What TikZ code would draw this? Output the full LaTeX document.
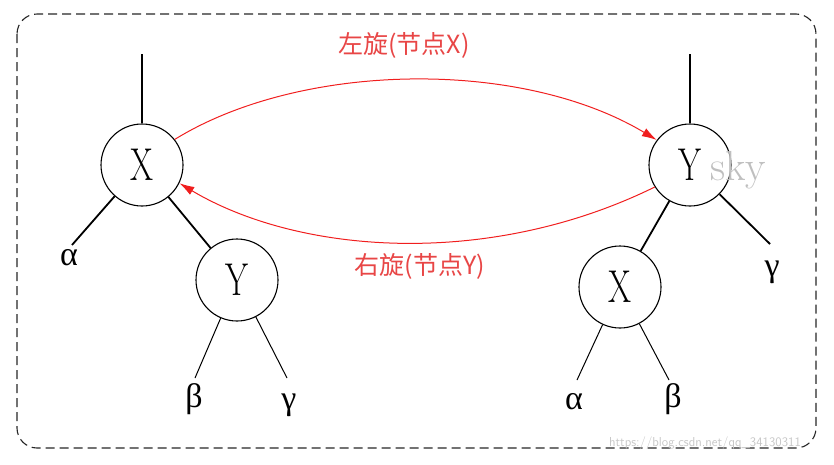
\documentclass[tikz,border=0pt]{standalone}
\usepackage{fontspec}
\usepackage{graphicx}
\newfontfamily\cjk{Noto Sans CJK SC}
\newfontfamily\grk{Liberation Serif}
\usetikzlibrary{arrows.meta}
\definecolor{rotred}{RGB}{240,30,30}
\definecolor{lblred}{RGB}{232,70,70}
\newcommand{\narrow}[1]{\scalebox{0.72}[1]{#1}}
\begin{document}
\begin{tikzpicture}[x=1pt,y=-1pt,
  tnode/.style={circle,draw,line width=1.1pt,minimum size=82pt,inner sep=0pt,font=\fontsize{46}{46}\selectfont},
  thickedge/.style={line width=1.8pt},
  thinedge/.style={line width=1pt},
  leaf/.style={inner sep=0pt,font=\grk\fontsize{34}{34}\selectfont},
  rot/.style={rotred,line width=1pt,-{Latex[length=15pt,width=9pt]}},
  rotlbl/.style={lblred,font=\cjk\fontsize{25}{25}\selectfont}]
\useasboundingbox (0,0) rectangle (834,464);
\draw[line width=1.1pt,dash pattern=on 9pt off 5pt,rounded corners=20pt,black!85] (17,14) rectangle (816,448);

% left tree
\node[tnode] (LX) at (142,165) {\narrow{X}};
\node[tnode] (LY) at (237,280) {\narrow{Y}};
\coordinate (LXtop) at (142,54);
\coordinate (LA) at (72,245);
\coordinate (LB) at (195,378);
\coordinate (LG) at (287,378);
\draw[thickedge] (LX) -- (LXtop);
\draw[thickedge] (LX) -- (LA);
\draw[thickedge] (LX) -- (LY);
\draw[thinedge] (LY) -- (LB);
\draw[thinedge] (LY) -- (LG);
\node[leaf] (la) at (69,258) {α};
\node[leaf] (lb) at (194,399) {β};
\node[leaf] (lg) at (289,405) {γ};

% right tree
\node[tnode] (RY) at (690,165) {\narrow{Y}};
\node[tnode] (RX) at (620,287) {\narrow{X}};
\coordinate (RYtop) at (690,54);
\coordinate (RG) at (770,244);
\coordinate (RA) at (577,380);
\coordinate (RB) at (669,380);
\draw[thickedge] (RY) -- (RYtop);
\draw[thickedge] (RY) -- (RX);
\draw[thickedge] (RY) -- (RG);
\draw[thinedge] (RX) -- (RA);
\draw[thinedge] (RX) -- (RB);
\node[leaf] (rg) at (772,272) {γ};
\node[leaf] (ra) at (574,402) {α};
\node[leaf] (rb) at (673,399) {β};

% rotations
\draw[rot] (LX.38) .. controls (300,62) and (520,58) .. (RY.143);
\draw[rot] (RY.212) .. controls (490,268) and (300,255) .. (LX.334);
\node[rotlbl] (lrot) at (404,45) {左旋(节点X)};
\node[rotlbl] (rrot) at (420,266) {右旋(节点Y)};

% watermarks
\node[black!25,font=\fontsize{42}{42}\selectfont] (wm) at (738,170) {sky};
\node[black!22,font=\sffamily\fontsize{13}{13}\selectfont] (url) at (705,443) {https://blog.csdn.net/qq\_34130311};
\end{tikzpicture}
\end{document}
